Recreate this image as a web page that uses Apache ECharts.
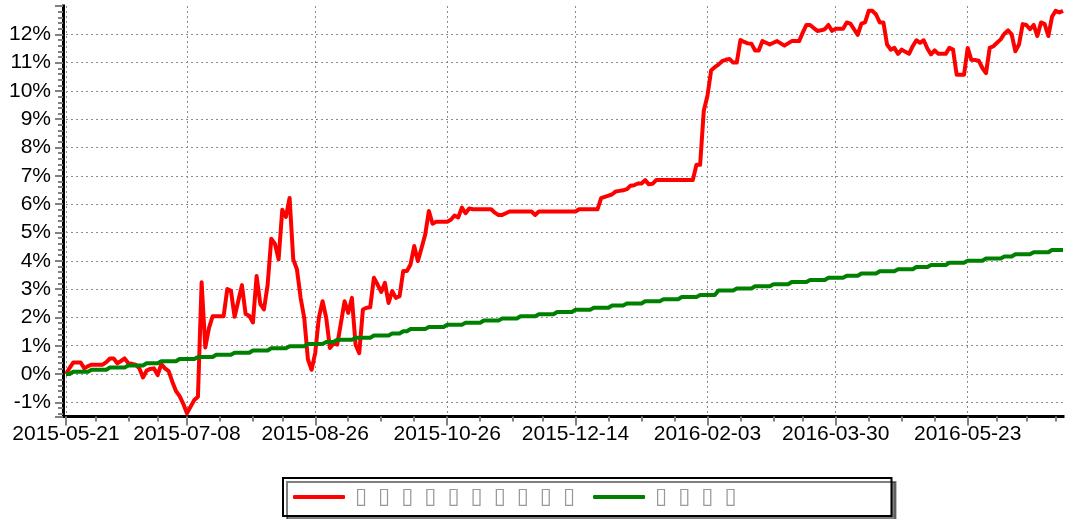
<!DOCTYPE html>
<html>
<head>
<meta charset="utf-8">
<script src="https://cdn.jsdelivr.net/npm/echarts@6/dist/echarts.min.js"></script>
<style>
  html, body { margin: 0; padding: 0; background: #fff; }
  #chart { width: 1065px; height: 519px; }
</style>
</head>
<body>
<div id="chart"></div>
<script>
// 交易日区间与休市日
const startDate = '2015-05-21'
const endDate = '2016-06-30'
const holidays = [
  '2015-06-22', '2015-09-03', '2015-09-04',
  '2015-10-01', '2015-10-02', '2015-10-05', '2015-10-06', '2015-10-07',
  '2016-01-01', '2016-02-08', '2016-02-09', '2016-02-10', '2016-02-11', '2016-02-12',
  '2016-04-04', '2016-05-02', '2016-06-09', '2016-06-10',
]

// x 轴刻度标签
const tickLabels = ['2015-05-21', '2015-07-08', '2015-08-26', '2015-10-26', '2015-12-14', '2016-02-03', '2016-03-30', '2016-05-23']

// 图例文字（原图为缺字方框）
const seriesNames = [
  '▯\u2002▯\u2002▯\u2002▯\u2002▯\u2002▯\u2002▯\u2002▯\u2002▯\u2002▯',
  '▯\u2002▯\u2002▯\u2002▯',
]

// 策略累计收益 (%)
const strategy = [
  0.00, 0.22, 0.41, 0.41, 0.41, 0.20, 0.28, 0.33, 0.33, 0.33,
  0.33, 0.42, 0.55, 0.55, 0.38, 0.46, 0.55, 0.38, 0.36, 0.33,
  0.20, -0.12, 0.12, 0.18, 0.20, -0.04, 0.35, 0.20, 0.10, -0.27,
  -0.60, -0.78, -1.05, -1.39, -1.15, -0.92, -0.80, 3.24, 0.94, 1.62,
  2.04, 2.04, 2.04, 2.04, 3.00, 2.94, 2.02, 2.58, 3.14, 2.12,
  2.06, 1.82, 3.46, 2.48, 2.28, 3.14, 4.78, 4.60, 4.05, 5.80,
  5.55, 6.22, 4.05, 3.70, 2.70, 1.98, 0.52, 0.15, 0.75, 2.00,
  2.57, 1.98, 0.92, 1.08, 1.04, 1.80, 2.57, 2.16, 2.69, 1.04,
  0.74, 2.28, 2.34, 2.36, 3.40, 3.16, 2.90, 3.22, 2.51, 2.93,
  2.69, 2.75, 3.64, 3.64, 3.87, 4.52, 3.99, 4.45, 4.93, 5.76,
  5.31, 5.38, 5.38, 5.38, 5.38, 5.45, 5.60, 5.53, 5.88, 5.68,
  5.85, 5.82, 5.82, 5.82, 5.82, 5.82, 5.82, 5.70, 5.62, 5.62,
  5.68, 5.74, 5.74, 5.74, 5.74, 5.74, 5.74, 5.74, 5.62, 5.74,
  5.74, 5.74, 5.74, 5.74, 5.74, 5.74, 5.74, 5.74, 5.74, 5.74,
  5.82, 5.82, 5.82, 5.82, 5.82, 5.82, 6.21, 6.26, 6.30, 6.35,
  6.45, 6.47, 6.49, 6.53, 6.65, 6.67, 6.73, 6.73, 6.85, 6.70,
  6.72, 6.85, 6.85, 6.85, 6.85, 6.85, 6.85, 6.85, 6.85, 6.85,
  6.85, 6.85, 7.39, 7.39, 9.30, 9.83, 10.72, 10.84, 10.93, 11.05,
  11.10, 11.13, 11.00, 11.00, 11.80, 11.73, 11.68, 11.67, 11.43, 11.43,
  11.76, 11.70, 11.64, 11.70, 11.76, 11.68, 11.60, 11.68, 11.76, 11.76,
  11.76, 12.06, 12.33, 12.33, 12.22, 12.12, 12.14, 12.18, 12.33, 12.12,
  12.20, 12.20, 12.20, 12.42, 12.38, 12.18, 11.98, 12.38, 12.42, 12.83,
  12.83, 12.70, 12.42, 12.42, 11.64, 11.46, 11.52, 11.31, 11.46, 11.38,
  11.31, 11.58, 11.79, 11.70, 11.79, 11.50, 11.29, 11.43, 11.31, 11.31,
  11.31, 11.52, 11.46, 10.57, 10.57, 10.57, 11.52, 11.10, 11.09, 11.07,
  10.81, 10.63, 11.52, 11.58, 11.70, 11.82, 12.02, 12.14, 12.00, 11.40,
  11.64, 12.36, 12.33, 12.18, 12.33, 11.94, 12.42, 12.36, 11.94, 12.62,
  12.83, 12.77, 12.83,
]

// 基准收益 (%)，按周阶梯上升，每行一周
const benchmark = [
  0.00, 0.00,
  0.08, 0.08, 0.08, 0.08, 0.08,
  0.15, 0.15, 0.15, 0.15, 0.15,
  0.23, 0.23, 0.23, 0.23, 0.23,
  0.30, 0.30, 0.30, 0.30, 0.30,
  0.38, 0.38, 0.38, 0.38,
  0.45, 0.45, 0.45, 0.45, 0.45,
  0.53, 0.53, 0.53, 0.53, 0.53,
  0.60, 0.60, 0.60, 0.60, 0.60,
  0.68, 0.68, 0.68, 0.68, 0.68,
  0.75, 0.75, 0.75, 0.75, 0.75,
  0.83, 0.83, 0.83, 0.83, 0.83,
  0.91, 0.91, 0.91, 0.91, 0.91,
  0.98, 0.98, 0.98, 0.98, 0.98,
  1.06, 1.06, 1.06, 1.06, 1.06,
  1.13, 1.13, 1.13,
  1.21, 1.21, 1.21, 1.21, 1.21,
  1.28, 1.28, 1.28, 1.28, 1.28,
  1.36, 1.36, 1.36, 1.36, 1.36,
  1.43, 1.43, 1.43,
  1.51, 1.51,
  1.59, 1.59, 1.59, 1.59, 1.59,
  1.66, 1.66, 1.66, 1.66, 1.66,
  1.74, 1.74, 1.74, 1.74, 1.74,
  1.81, 1.81, 1.81, 1.81, 1.81,
  1.89, 1.89, 1.89, 1.89, 1.89,
  1.96, 1.96, 1.96, 1.96, 1.96,
  2.04, 2.04, 2.04, 2.04, 2.04,
  2.11, 2.11, 2.11, 2.11, 2.11,
  2.19, 2.19, 2.19, 2.19, 2.19,
  2.27, 2.27, 2.27, 2.27, 2.27,
  2.34, 2.34, 2.34, 2.34, 2.34,
  2.42, 2.42, 2.42, 2.42,
  2.49, 2.49, 2.49, 2.49, 2.49,
  2.57, 2.57, 2.57, 2.57, 2.57,
  2.64, 2.64, 2.64, 2.64, 2.64,
  2.72, 2.72, 2.72, 2.72, 2.72,
  2.79, 2.79, 2.79, 2.79, 2.79,
  2.95, 2.95, 2.95, 2.95, 2.95,
  3.02, 3.02, 3.02, 3.02, 3.02,
  3.10, 3.10, 3.10, 3.10, 3.10,
  3.17, 3.17, 3.17, 3.17, 3.17,
  3.25, 3.25, 3.25, 3.25, 3.25,
  3.32, 3.32, 3.32, 3.32, 3.32,
  3.40, 3.40, 3.40, 3.40, 3.40,
  3.47, 3.47, 3.47, 3.47,
  3.55, 3.55, 3.55, 3.55, 3.55,
  3.63, 3.63, 3.63, 3.63, 3.63,
  3.70, 3.70, 3.70, 3.70, 3.70,
  3.78, 3.78, 3.78, 3.78,
  3.85, 3.85, 3.85, 3.85, 3.85,
  3.93, 3.93, 3.93, 3.93, 3.93,
  4.00, 4.00, 4.00, 4.00, 4.00,
  4.08, 4.08, 4.08, 4.08, 4.08,
  4.15, 4.15, 4.15,
  4.23, 4.23, 4.23, 4.23, 4.23,
  4.30, 4.30, 4.30, 4.30, 4.30,
  4.38, 4.38, 4.38, 4.38,
]

// 生成交易日列表（跳过周末和休市日）
function tradingDays(from, to, skip) {
  const out = []
  const d = new Date(from + 'T00:00:00Z')
  const end = new Date(to + 'T00:00:00Z')
  while (d <= end) {
    const s = d.toISOString().slice(0, 10)
    const w = d.getUTCDay()
    if (w !== 0 && w !== 6 && skip.indexOf(s) < 0) out.push(s)
    d.setUTCDate(d.getUTCDate() + 1)
  }
  return out
}

const dates = tradingDays(startDate, endDate, holidays)

// 主刻度位置，以及每段之间的 3 个小刻度
const majorIdx = tickLabels.map(t => dates.indexOf(t))
const minorIdx = []
for (let k = 0; k < majorIdx.length; k++) {
  const a = majorIdx[k]
  const b = k + 1 < majorIdx.length ? majorIdx[k + 1] : a + 32
  for (let j = 1; j < 4; j++) minorIdx.push(a + Math.round(j * (b - a) / 4))
}
const isMajor = i => majorIdx.indexOf(i) >= 0
const isMinor = i => minorIdx.indexOf(i) >= 0

const gridLine = { color: '#8c8c8c', width: 1, type: [2, 3] }
const tickColor = '#808080'
const labelFont = { color: '#000', fontSize: 21, fontFamily: 'Liberation Sans, Arial, sans-serif' }

const option = {
  animation: false,
  backgroundColor: '#fff',
  grid: { left: 66, right: 2, top: 6, bottom: 102.5, containLabel: false },
  legend: {
    left: 283,
    top: 478,
    padding: [8, 155, 8, 10],
    itemGap: 18,
    itemWidth: 52,
    itemHeight: 4,
    icon: 'roundRect',
    selectedMode: false,
    backgroundColor: '#fff',
    borderColor: '#000',
    borderWidth: 2,
    borderRadius: 0,
    shadowColor: 'rgba(0,0,0,0.5)',
    shadowOffsetX: 4,
    shadowOffsetY: 4,
    shadowBlur: 0,
    textStyle: { color: '#999', fontSize: 22, lineHeight: 19, fontFamily: 'DejaVu Sans', padding: [0, 0, 0, 5] },
    data: seriesNames,
  },
  xAxis: [
    {
      type: 'category',
      data: dates,
      boundaryGap: false,
      axisLine: { onZero: false, lineStyle: { color: '#000', width: 3, cap: 'square' } },
      axisTick: { interval: isMajor, length: 9, lineStyle: { color: tickColor, width: 2 } },
      axisLabel: Object.assign({ interval: isMajor, margin: 7 }, labelFont),
      splitLine: { show: true, interval: isMajor, lineStyle: gridLine },
    },
    {
      type: 'category',
      data: dates,
      boundaryGap: false,
      position: 'bottom',
      axisLine: { show: false, onZero: false },
      axisTick: { interval: isMinor, length: 5, lineStyle: { color: tickColor, width: 2 } },
      axisLabel: { show: false },
      splitLine: { show: false },
    },
  ],
  yAxis: {
    type: 'value',
    min: -1.5,
    max: 13,
    splitNumber: 14,
    offset: 3,
    axisLine: { show: true, lineStyle: { color: '#000', width: 3, cap: 'square' } },
    axisTick: { show: true, length: 8, lineStyle: { color: tickColor, width: 2 } },
    minorTick: { show: true, splitNumber: 5, length: 5, lineStyle: { color: tickColor, width: 2 } },
    axisLabel: Object.assign({
      formatter: v => v + '%',
      showMinLabel: false,
      showMaxLabel: false,
      margin: 12,
    }, labelFont),
    splitLine: { show: true, showMinLine: false, showMaxLine: false, lineStyle: gridLine },
  },
  series: [
    {
      name: seriesNames[0],
      type: 'line',
      data: strategy,
      showSymbol: false,
      symbol: 'none',
      lineStyle: { color: '#ff0000', width: 4, join: 'round' },
      itemStyle: { color: '#ff0000' },
    },
    {
      name: seriesNames[1],
      type: 'line',
      data: benchmark,
      showSymbol: false,
      symbol: 'none',
      lineStyle: { color: '#008000', width: 4, join: 'round' },
      itemStyle: { color: '#008000' },
    },
  ],
}

const chart = echarts.init(document.getElementById('chart'))
chart.setOption(option)
window.addEventListener('resize', () => chart.resize())
</script>
</body>
</html>
